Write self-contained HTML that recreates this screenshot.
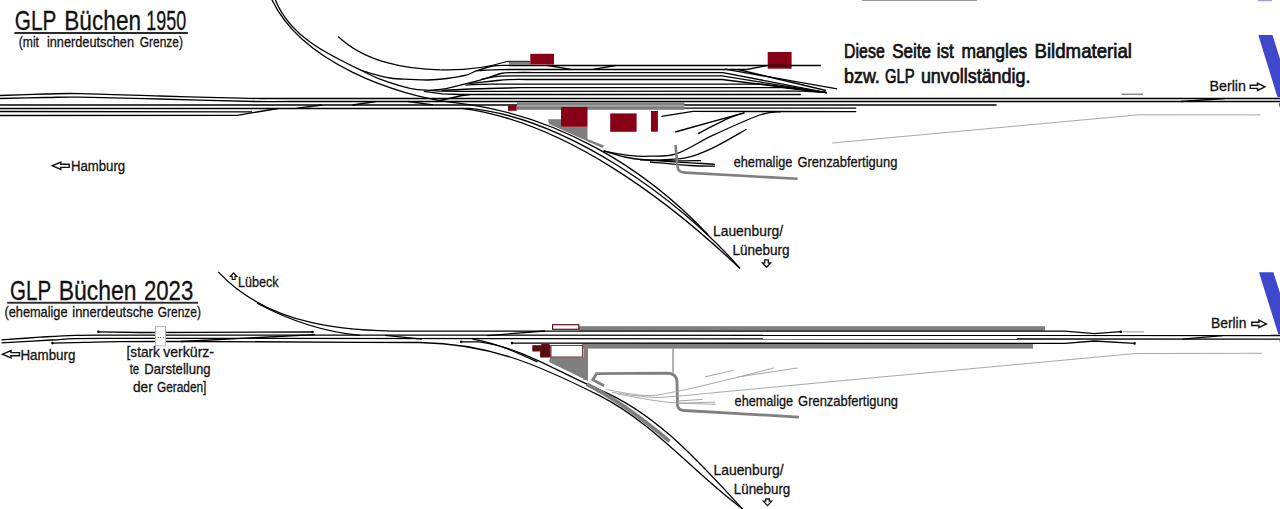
<!DOCTYPE html>
<html><head><meta charset="utf-8"><style>
html,body{margin:0;padding:0;background:#fff;width:1280px;height:509px;overflow:hidden}
svg{display:block}
text{font-family:"Liberation Sans", sans-serif}
</style></head><body>
<svg width="1280" height="509" viewBox="0 0 1280 509">
<rect width="1280" height="509" fill="#fff"/>
<rect x="767.7" y="52.0" width="23.9" height="16.7" fill="#880015"/>
<polygon points="548.0,119.3 561.0,119.3 561.0,127.0 587.5,127.0 587.5,139.0 604.0,145.5 602.5,148.0 549.0,124.0" fill="#7f7f7f"/>
<path d="M0.0 95.5 C7.7 95.2 32.7 94.3 46.0 94.0 C59.3 93.7 61.0 93.3 80.0 93.6 C99.0 93.9 133.3 95.2 160.0 96.0 C186.7 96.8 220.8 97.8 240.0 98.2 C259.2 98.6 248.3 98.5 275.0 98.5 C301.7 98.5 379.2 98.5 400.0 98.5" stroke="#000" stroke-width="1.3" fill="none"/>
<path d="M400.0 98.5 L1280.0 98.5" stroke="#000" stroke-width="1.3" fill="none"/>
<path d="M0.0 98.5 C7.7 98.3 32.7 97.7 46.0 97.5 C59.3 97.3 61.0 96.8 80.0 97.1 C99.0 97.3 130.8 98.3 160.0 99.0 C189.2 99.7 233.3 101.1 255.0 101.5 C276.7 101.9 265.8 101.5 290.0 101.5 C314.2 101.5 381.7 101.5 400.0 101.5" stroke="#000" stroke-width="1.3" fill="none"/>
<path d="M400.0 101.5 L1280.0 101.5" stroke="#000" stroke-width="1.3" fill="none"/>
<path d="M1181.0 101.5 L1225.0 98.5" stroke="#000" stroke-width="1.3" fill="none"/>
<path d="M0.0 105.0 L996.6 105.0" stroke="#000" stroke-width="1.3" fill="none"/>
<path d="M0.0 108.5 L470.0 108.5" stroke="#000" stroke-width="1.3" fill="none"/>
<path d="M0.0 111.5 L252.0 111.8" stroke="#000" stroke-width="1.3" fill="none"/>
<path d="M0.0 115.5 L237.0 115.3 L278.0 108.5" stroke="#000" stroke-width="1.3" fill="none"/>
<path d="M296.0 108.4 L322.0 105.0" stroke="#000" stroke-width="1.3" fill="none"/>
<path d="M352.5 105.0 L376.0 101.5" stroke="#000" stroke-width="1.3" fill="none"/>
<path d="M408.0 101.5 L433.0 104.9" stroke="#000" stroke-width="1.3" fill="none"/>
<path d="M436.0 101.5 L462.0 95.5 L470.0 94.6" stroke="#000" stroke-width="1.3" fill="none"/>
<path d="M441.8 90.5 L470.0 89.0 L508.6 88.0 L520.0 87.7 L782.0 87.7 L826.6 92.6" stroke="#000" stroke-width="1.3" fill="none"/>
<path d="M271.6 -1.0 C300.6 61.5 394.9 96.7 460.0 103.3" stroke="#000" stroke-width="1.3" fill="none"/>
<path d="M460.0 103.3 C555.4 115.2 642.6 165.2 708.0 234.8" stroke="#000" stroke-width="1.3" fill="none"/>
<path d="M275.0 -1.0 C289.8 37.1 328.7 54.9 363.0 71.2" stroke="#000" stroke-width="1.3" fill="none"/>
<path d="M363.0 71.2 C367.5 72.3 382.2 76.7 390.0 78.0 C397.8 79.3 403.7 79.0 410.0 79.3 C416.3 79.6 421.8 80.1 428.0 80.0 C434.2 79.9 440.7 79.3 447.0 78.5 C453.3 77.7 460.8 76.5 465.8 75.2 C470.8 73.9 472.5 72.2 477.0 70.7 C481.5 69.2 487.7 66.9 493.0 66.0 C498.3 65.1 502.8 65.5 509.0 65.4 C515.2 65.3 526.5 65.4 530.0 65.4" stroke="#000" stroke-width="1.3" fill="none"/>
<path d="M363.0 71.2 C365.8 72.5 372.0 76.3 380.0 79.2 C388.0 82.2 402.7 86.8 411.0 88.6 C419.3 90.4 424.3 89.9 430.0 90.3 C435.7 90.7 438.3 91.0 445.0 91.2 C451.7 91.4 465.8 91.3 470.0 91.3" stroke="#000" stroke-width="1.3" fill="none"/>
<path d="M430.0 90.3 C432.1 90.1 437.3 90.2 442.5 89.2 C447.7 88.3 454.3 86.7 461.4 84.9 C468.5 83.1 478.4 80.5 485.0 78.6 C491.6 76.7 495.8 74.5 500.8 73.5 C505.8 72.5 508.5 72.8 515.0 72.6 C521.5 72.4 535.8 72.6 540.0 72.6" stroke="#000" stroke-width="1.3" fill="none"/>
<path d="M338.2 36.5 C364.5 61.7 405.4 69.5 440.6 69.8" stroke="#000" stroke-width="1.3" fill="none"/>
<path d="M440.6 69.8 C463.0 70.5 485.6 68.1 507.0 61.5" stroke="#000" stroke-width="1.3" fill="none"/>
<path d="M507.0 61.5 L530.0 61.5" stroke="#000" stroke-width="1.3" fill="none"/>
<path d="M509.0 65.5 L820.9 65.5" stroke="#000" stroke-width="1.3" fill="none"/>
<path d="M548.0 65.5 L571.0 69.3" stroke="#000" stroke-width="1.3" fill="none"/>
<path d="M593.0 69.3 L615.5 65.5" stroke="#000" stroke-width="1.3" fill="none"/>
<path d="M477.0 70.7 C481.0 70.5 492.0 69.8 500.8 69.6 C509.6 69.4 525.1 69.5 530.0 69.5" stroke="#000" stroke-width="1.3" fill="none"/>
<path d="M530.0 69.5 L747.0 69.5 L766.8 65.5" stroke="#000" stroke-width="1.3" fill="none"/>
<path d="M540.0 72.6 L723.0 72.6 L826.6 92.6" stroke="#000" stroke-width="1.3" fill="none"/>
<path d="M481.0 79.4 C484.3 78.9 492.6 76.8 500.8 76.2 C509.0 75.6 525.1 76.0 530.0 75.9" stroke="#000" stroke-width="1.3" fill="none"/>
<path d="M530.0 75.9 L722.0 75.9 L826.6 92.6" stroke="#000" stroke-width="1.3" fill="none"/>
<path d="M469.0 83.7 C473.0 83.2 486.4 81.7 493.0 81.0 C499.6 80.3 502.4 79.8 508.6 79.6 C514.8 79.3 526.4 79.5 530.0 79.5" stroke="#000" stroke-width="1.3" fill="none"/>
<path d="M530.0 79.5 L722.0 79.5 L826.6 92.6" stroke="#000" stroke-width="1.3" fill="none"/>
<path d="M465.4 85.2 C467.8 85.0 474.2 84.5 480.0 84.3 C485.8 84.1 496.7 84.2 500.0 84.2" stroke="#000" stroke-width="1.3" fill="none"/>
<path d="M500.0 84.2 L762.0 84.2 L826.6 92.6" stroke="#000" stroke-width="1.3" fill="none"/>
<path d="M470.0 91.3 L803.0 91.2 L826.6 92.6" stroke="#000" stroke-width="1.3" fill="none"/>
<path d="M423.8 91.4 L442.5 93.9 L460.0 94.5 L800.8 94.5" stroke="#000" stroke-width="1.3" fill="none"/>
<path d="M725.0 69.1 L837.2 88.9" stroke="#000" stroke-width="1.3" fill="none"/>
<path d="M738.0 69.5 L826.0 90.5" stroke="#000" stroke-width="1.3" fill="none"/>
<path d="M684.0 108.2 L856.2 108.2" stroke="#000" stroke-width="1.3" fill="none"/>
<path d="M693.0 111.4 L856.2 111.6" stroke="#000" stroke-width="1.3" fill="none"/>
<path d="M661.4 116.4 L693.0 111.4" stroke="#000" stroke-width="1.3" fill="none"/>
<path d="M470.0 108.4 C564.7 118.1 679.0 197.5 740.0 268.5" stroke="#000" stroke-width="1.3" fill="none"/>
<path d="M462.0 108.4 C564.4 121.6 667.7 199.7 740.0 268.5" stroke="#000" stroke-width="1.3" fill="none"/>
<path d="M603.6 150.9 C607.8 151.7 621.0 154.5 628.7 155.4 C636.4 156.3 642.0 156.5 650.0 156.2 C658.0 155.9 666.3 157.1 676.8 153.6 C687.3 150.1 699.4 141.6 713.2 135.2 C727.0 128.8 748.4 118.9 759.7 115.0 C771.0 111.1 777.5 112.2 781.0 111.6" stroke="#000" stroke-width="1.3" fill="none"/>
<path d="M603.6 150.9 C608.0 152.1 620.6 156.3 630.0 158.0 C639.4 159.7 645.8 159.8 660.0 160.8 C674.2 161.9 705.8 163.7 715.0 164.3" stroke="#000" stroke-width="1.3" fill="none"/>
<path d="M640.0 159.8 C646.7 160.0 669.8 160.7 680.0 160.8 C690.2 160.9 697.5 160.6 701.0 160.6" stroke="#000" stroke-width="1.3" fill="none"/>
<path d="M650.0 162.0 C656.7 162.6 679.2 164.8 690.0 165.5 C700.8 166.2 710.8 166.1 715.0 166.2" stroke="#000" stroke-width="1.3" fill="none"/>
<path d="M650.0 160.4 C655.9 160.0 675.0 160.0 685.5 157.9 C696.0 155.8 702.8 152.6 713.0 147.8 C723.2 143.0 740.9 132.3 746.5 129.2" stroke="#000" stroke-width="1.3" fill="none"/>
<path d="M675.2 132.0 L744.7 112.6" stroke="#000" stroke-width="1.3" fill="none"/>
<path d="M698.0 133.7 C702.8 131.2 719.3 122.4 727.0 118.9 C734.7 115.5 741.2 114.0 744.0 113.0" stroke="#000" stroke-width="1.3" fill="none"/>
<path d="M675.5 145 L677.5 166.5 Q678 172.6 685 172.6 L797.6 178.8" stroke="#7f7f7f" stroke-width="2.6" fill="none"/>
<path d="M832.3 143.0 L1138.2 114.8 L1260.5 114.9" stroke="#a8a8a8" stroke-width="1" fill="none"/>
<path d="M1121.3 94.2 L1143.0 94.2" stroke="#555" stroke-width="1" fill="none"/>
<rect x="517.0" y="102.3" width="167.3" height="7.5" fill="#7f7f7f"/>
<path d="M517.0 105.8 L684.3 105.8" stroke="#c4c4c4" stroke-width="0.9" fill="none"/>
<rect x="509.0" y="61.6" width="21.5" height="3.4" fill="#7f7f7f"/>
<rect x="530.3" y="53.8" width="23.7" height="10.7" fill="#880015"/>
<rect x="508.0" y="105.4" width="8.7" height="5.4" fill="#880015"/>
<rect x="561.0" y="107.0" width="26.5" height="19.8" fill="#880015"/>
<rect x="610.2" y="113.4" width="26.4" height="18.4" fill="#880015"/>
<rect x="651.0" y="111.0" width="6.9" height="20.7" fill="#880015"/>
<rect x="579.0" y="326.2" width="466.0" height="4.6" fill="#7f7f7f"/>
<rect x="582.0" y="343.9" width="451.0" height="4.7" fill="#7f7f7f"/>
<rect x="583.4" y="348.0" width="4.6" height="32.0" fill="#7f7f7f"/>
<polygon points="550.3,357.3 588.0,357.3 588.0,381.0 583.0,378.5 549.0,362.0" fill="#7f7f7f"/>
<path d="M673.0 348.6 L673.0 373.8" stroke="#666" stroke-width="1" fill="none"/>
<path d="M1.5 339.9 C7.9 339.4 27.8 338.0 40.0 337.2 C52.2 336.4 61.7 335.6 75.0 335.3 C88.3 335.0 99.2 335.1 120.0 335.1 C140.8 335.1 186.7 335.1 200.0 335.1" stroke="#000" stroke-width="1.3" fill="none"/>
<path d="M200.0 335.1 L1280.0 335.5" stroke="#000" stroke-width="1.3" fill="none"/>
<path d="M1.5 342.9 C9.8 342.4 39.2 340.7 51.5 340.0 C63.8 339.3 63.6 338.9 75.0 338.6 C86.4 338.3 99.2 338.4 120.0 338.4 C140.8 338.4 186.7 338.4 200.0 338.4" stroke="#000" stroke-width="1.3" fill="none"/>
<path d="M200.0 338.4 L1280.0 339.2" stroke="#000" stroke-width="1.3" fill="none"/>
<path d="M52.5 343.1 C57.8 343.0 73.2 342.6 84.4 342.3 C95.7 342.1 100.7 341.7 120.0 341.6 C139.3 341.5 186.7 341.5 200.0 341.5" stroke="#000" stroke-width="1.3" fill="none"/>
<path d="M200.0 341.5 L360.0 342.3 L420.0 342.5" stroke="#000" stroke-width="1.3" fill="none"/>
<path d="M98.4 331.8 L140.0 332.5 L200.0 332.4 L312.5 332.0" stroke="#000" stroke-width="1.3" fill="none"/>
<path d="M181.0 341.5 L315.0 334.6" stroke="#000" stroke-width="1.3" fill="none"/>
<path d="M487.5 335.6 L545.0 331.0" stroke="#000" stroke-width="1.3" fill="none"/>
<path d="M385.0 335.4 L422.0 339.2" stroke="#000" stroke-width="1.3" fill="none"/>
<path d="M1182.4 339.2 L1222.7 335.6" stroke="#000" stroke-width="1.3" fill="none"/>
<path d="M218.2 271.9 C269.7 327.1 349.5 332.3 420.0 331.1" stroke="#000" stroke-width="1.3" fill="none"/>
<path d="M257.2 303.3 C289.0 320.3 324.1 332.0 360.0 335.4" stroke="#000" stroke-width="1.3" fill="none"/>
<path d="M420.0 331.1 L1065.0 331.1 L1094.3 333.6 L1120.8 331.7" stroke="#000" stroke-width="1.3" fill="none"/>
<path d="M1122.6 331.8 L1144.0 331.8" stroke="#a8a8a8" stroke-width="1.2" fill="none"/>
<path d="M512.0 343.1 L1065.0 343.4 L1094.3 341.0 L1134.6 343.4" stroke="#000" stroke-width="1.3" fill="none"/>
<path d="M420.0 342.5 C489.4 343.6 537.5 364.5 598.6 395.2 C654.1 423.1 693.5 472.9 742.7 509.0" stroke="#000" stroke-width="1.3" fill="none"/>
<path d="M461.2 341.8 L479.3 341.9" stroke="#000" stroke-width="1.3" fill="none"/>
<path d="M479.3 341.9 C522.6 347.7 559.0 372.9 598.6 389.3 C657.1 413.4 700.2 463.6 742.7 509.0" stroke="#000" stroke-width="1.3" fill="none"/>
<path d="M472.5 339.1 C495.3 342.5 516.7 352.4 537.5 362.0" stroke="#000" stroke-width="1.3" fill="none"/>
<path d="M586.8 384.2 C616.8 399.3 644.0 419.7 669.5 441.3" stroke="#7f7f7f" stroke-width="3.8" fill="none"/>
<path d="M604.2 385.7 L592.7 379.7 L596.6 373.7 L666.6 373.1 Q677 373.5 677 382 L677.5 405.4 Q678 410 684 410.5 L730 413.1 L799 417.1" stroke="#7f7f7f" stroke-width="2.8" fill="none"/>
<path d="M606.4 389.5 C612.8 390.5 633.2 395.1 644.7 395.5 C656.2 395.9 661.1 394.4 675.3 391.7 C689.5 389.0 713.6 383.1 730.0 379.1 C746.4 375.2 766.3 369.9 773.6 368.0" stroke="#a8a8a8" stroke-width="1" fill="none"/>
<path d="M737.7 377.0 L797.5 368.0" stroke="#a8a8a8" stroke-width="1" fill="none"/>
<path d="M611.9 392.3 C618.3 393.1 639.3 396.6 650.2 397.2 C661.1 397.8 664.2 397.1 677.5 396.1 C690.8 395.1 701.0 393.9 730.0 391.2 C759.0 388.5 783.7 386.1 851.3 379.8 C918.9 373.5 1088.4 357.9 1135.8 353.5" stroke="#a8a8a8" stroke-width="1" fill="none"/>
<path d="M1135.8 353.5 L1262.0 353.3" stroke="#a8a8a8" stroke-width="1" fill="none"/>
<path d="M617.4 393.9 C625.6 395.3 650.2 400.4 666.6 402.1 C683.0 403.8 707.6 403.9 715.8 404.3" stroke="#a8a8a8" stroke-width="1" fill="none"/>
<path d="M677.5 401.0 L702.7 399.4" stroke="#a8a8a8" stroke-width="1" fill="none"/>
<path d="M677.5 403.2 L715.3 402.1" stroke="#a8a8a8" stroke-width="1" fill="none"/>
<path d="M704.9 376.9 L733.3 370.4" stroke="#a8a8a8" stroke-width="1" fill="none"/>
<circle cx="461.2" cy="341.8" r="1.3" fill="#000"/>
<circle cx="512.0" cy="343.1" r="1.3" fill="#000"/>
<circle cx="1120.8" cy="331.7" r="1.3" fill="#000"/>
<circle cx="1134.6" cy="343.4" r="1.3" fill="#000"/>
<circle cx="312.5" cy="332.0" r="1.3" fill="#000"/>
<circle cx="98.4" cy="331.8" r="1.3" fill="#000"/>
<circle cx="52.5" cy="343.1" r="1.3" fill="#000"/>
<rect x="552.6" y="324.7" width="26.2" height="4.6" fill="#fff" stroke="#5e1014" stroke-width="1.2"/>
<rect x="532.3" y="345.2" width="8.2" height="6.3" fill="#5a0c10"/>
<path d="M540.1 357.6 L540.1 346.5 Q540.1 344 542.6 344 L548.1 344 Q550.6 344 550.6 346.5 L550.6 357.6 Z" fill="#5a0c10"/>
<rect x="551" y="345.4" width="31.4" height="11.6" fill="#fff" stroke="#6a1c1c" stroke-width="0.9"/>
<rect x="155.5" y="326.5" width="10" height="19.4" fill="#fff" stroke="#bbb" stroke-width="1"/>
<rect x="157.8" y="337.0" width="1.0" height="1.0" fill="#555"/>
<rect x="160.3" y="337.0" width="1.0" height="1.0" fill="#555"/>
<rect x="162.8" y="337.0" width="1.0" height="1.0" fill="#555"/>
<polygon points="1258.3,35.0 1272.5,35.0 1292.0,97.2 1277.5,97.2" fill="#3f48cc"/>
<polygon points="1278.6,103.2 1282.0,103.2 1282.0,107.5 1279.8,107.5" fill="#3f48cc"/>
<polygon points="1259.0,272.2 1273.4,272.2 1293.0,334.2 1278.3,334.2" fill="#3f48cc"/>
<polygon points="1279.4,340.3 1282.0,340.3 1282.0,344.5 1280.3,344.5" fill="#3f48cc"/>
<rect x="1258.0" y="0.0" width="14.0" height="1.2" fill="#9aa0e6"/>
<rect x="862.0" y="0.0" width="115.0" height="1.0" fill="#9a9a9a"/>
<text x="14.75" y="29.9" font-size="27.6" fill="#111" textLength="41.52" lengthAdjust="spacingAndGlyphs" stroke="#111" stroke-width="0.3">GLP</text>
<text x="64.28" y="29.9" font-size="27.6" fill="#111" textLength="76.81" lengthAdjust="spacingAndGlyphs" stroke="#111" stroke-width="0.3">Büchen</text>
<text x="146.25" y="29.9" font-size="27.6" fill="#111" textLength="39.90" lengthAdjust="spacingAndGlyphs" stroke="#111" stroke-width="0.3">1950</text>
<text x="18.75" y="46.8" font-size="15" fill="#111" textLength="20.24" lengthAdjust="spacingAndGlyphs" stroke="#111" stroke-width="0.3">(mit</text>
<text x="46.90" y="46.8" font-size="15" fill="#111" textLength="87.14" lengthAdjust="spacingAndGlyphs" stroke="#111" stroke-width="0.3">innerdeutschen</text>
<text x="139.80" y="46.8" font-size="15" fill="#111" textLength="43.15" lengthAdjust="spacingAndGlyphs" stroke="#111" stroke-width="0.3">Grenze)</text>
<text x="844.10" y="58.0" font-size="19.8" fill="#111" textLength="40.66" lengthAdjust="spacingAndGlyphs" stroke="#111" stroke-width="0.7">Diese</text>
<text x="892.20" y="58.0" font-size="19.8" fill="#111" textLength="38.78" lengthAdjust="spacingAndGlyphs" stroke="#111" stroke-width="0.7">Seite</text>
<text x="936.70" y="58.0" font-size="19.8" fill="#111" textLength="17.14" lengthAdjust="spacingAndGlyphs" stroke="#111" stroke-width="0.7">ist</text>
<text x="961.40" y="58.0" font-size="19.8" fill="#111" textLength="65.91" lengthAdjust="spacingAndGlyphs" stroke="#111" stroke-width="0.7">mangles</text>
<text x="1034.50" y="58.0" font-size="19.8" fill="#111" textLength="97.42" lengthAdjust="spacingAndGlyphs" stroke="#111" stroke-width="0.7">Bildmaterial</text>
<text x="844.10" y="83.0" font-size="19.8" fill="#111" textLength="35.74" lengthAdjust="spacingAndGlyphs" stroke="#111" stroke-width="0.7">bzw.</text>
<text x="885.10" y="83.0" font-size="19.8" fill="#111" textLength="29.60" lengthAdjust="spacingAndGlyphs" stroke="#111" stroke-width="0.7">GLP</text>
<text x="920.90" y="83.0" font-size="19.8" fill="#111" textLength="109.58" lengthAdjust="spacingAndGlyphs" stroke="#111" stroke-width="0.7">unvollständig.</text>
<text x="1209.50" y="90.7" font-size="15.3" fill="#111" textLength="36.40" lengthAdjust="spacingAndGlyphs" stroke="#111" stroke-width="0.3">Berlin</text>
<text x="70.90" y="171.1" font-size="15.3" fill="#111" textLength="54.23" lengthAdjust="spacingAndGlyphs" stroke="#111" stroke-width="0.3">Hamburg</text>
<text x="733.70" y="166.7" font-size="14.5" fill="#111" textLength="58.73" lengthAdjust="spacingAndGlyphs" stroke="#111" stroke-width="0.3">ehemalige</text>
<text x="797.40" y="166.7" font-size="14.5" fill="#111" textLength="99.94" lengthAdjust="spacingAndGlyphs" stroke="#111" stroke-width="0.3">Grenzabfertigung</text>
<text x="713.00" y="235.6" font-size="15.3" fill="#111" textLength="70.06" lengthAdjust="spacingAndGlyphs" stroke="#111" stroke-width="0.3">Lauenburg/</text>
<text x="732.40" y="255.0" font-size="15.3" fill="#111" textLength="57.20" lengthAdjust="spacingAndGlyphs" stroke="#111" stroke-width="0.3">Lüneburg</text>
<text x="10.06" y="299.7" font-size="27.6" fill="#111" textLength="41.11" lengthAdjust="spacingAndGlyphs" stroke="#111" stroke-width="0.3">GLP</text>
<text x="58.77" y="299.7" font-size="27.6" fill="#111" textLength="77.83" lengthAdjust="spacingAndGlyphs" stroke="#111" stroke-width="0.3">Büchen</text>
<text x="143.89" y="299.7" font-size="27.6" fill="#111" textLength="49.42" lengthAdjust="spacingAndGlyphs" stroke="#111" stroke-width="0.3">2023</text>
<text x="4.50" y="316.8" font-size="15" fill="#111" textLength="62.99" lengthAdjust="spacingAndGlyphs" stroke="#111" stroke-width="0.3">(ehemalige</text>
<text x="72.30" y="316.8" font-size="15" fill="#111" textLength="81.20" lengthAdjust="spacingAndGlyphs" stroke="#111" stroke-width="0.3">innerdeutsche</text>
<text x="157.80" y="316.8" font-size="15" fill="#111" textLength="43.05" lengthAdjust="spacingAndGlyphs" stroke="#111" stroke-width="0.3">Grenze)</text>
<text x="238.00" y="286.8" font-size="15" fill="#111" textLength="40.67" lengthAdjust="spacingAndGlyphs" stroke="#111" stroke-width="0.3">Lübeck</text>
<text x="20.40" y="359.7" font-size="15.3" fill="#111" textLength="55.03" lengthAdjust="spacingAndGlyphs" stroke="#111" stroke-width="0.3">Hamburg</text>
<text x="126.60" y="356.9" font-size="15" fill="#111" textLength="33.12" lengthAdjust="spacingAndGlyphs" stroke="#111" stroke-width="0.3">[stark</text>
<text x="163.20" y="356.9" font-size="15" fill="#111" textLength="50.86" lengthAdjust="spacingAndGlyphs" stroke="#111" stroke-width="0.3">verkürz-</text>
<text x="129.70" y="374.2" font-size="15" fill="#111" textLength="9.53" lengthAdjust="spacingAndGlyphs" stroke="#111" stroke-width="0.3">te</text>
<text x="144.30" y="374.2" font-size="15" fill="#111" textLength="66.29" lengthAdjust="spacingAndGlyphs" stroke="#111" stroke-width="0.3">Darstellung</text>
<text x="132.90" y="392.2" font-size="15" fill="#111" textLength="19.81" lengthAdjust="spacingAndGlyphs" stroke="#111" stroke-width="0.3">der</text>
<text x="156.90" y="392.2" font-size="15" fill="#111" textLength="49.53" lengthAdjust="spacingAndGlyphs" stroke="#111" stroke-width="0.3">Geraden]</text>
<text x="1210.90" y="328.4" font-size="15.3" fill="#111" textLength="35.50" lengthAdjust="spacingAndGlyphs" stroke="#111" stroke-width="0.3">Berlin</text>
<text x="734.60" y="405.8" font-size="14.5" fill="#111" textLength="58.53" lengthAdjust="spacingAndGlyphs" stroke="#111" stroke-width="0.3">ehemalige</text>
<text x="798.10" y="405.8" font-size="14.5" fill="#111" textLength="99.94" lengthAdjust="spacingAndGlyphs" stroke="#111" stroke-width="0.3">Grenzabfertigung</text>
<text x="713.50" y="475.0" font-size="15.3" fill="#111" textLength="70.16" lengthAdjust="spacingAndGlyphs" stroke="#111" stroke-width="0.3">Lauenburg/</text>
<text x="733.80" y="494.4" font-size="15.3" fill="#111" textLength="56.50" lengthAdjust="spacingAndGlyphs" stroke="#111" stroke-width="0.3">Lüneburg</text>
<rect x="14.4" y="32.0" width="173.5" height="2.0" fill="#2a2a2a"/>
<rect x="7.2" y="301.8" width="190.8" height="1.9" fill="#2a2a2a"/>
<path d="M1250.3 85.2 L1257.5 85.2 L1257.5 83.1 L1265.0 86.8 L1257.5 90.5 L1257.5 88.4 L1250.3 88.4 Z" fill="#fff" stroke="#111" stroke-width="1.4" stroke-linejoin="miter"/>
<path d="M69.2 164.2 L60.8 164.2 L60.8 162.1 L52.3 165.8 L60.8 169.5 L60.8 167.4 L69.2 167.4 Z" fill="#fff" stroke="#111" stroke-width="1.4" stroke-linejoin="miter"/>
<path d="M764.7 259.8 L764.7 262.8 L762.3 262.8 L766.5 267.3 L770.7 262.8 L768.3 262.8 L768.3 259.8 Z" fill="#fff" stroke="#111" stroke-width="1.3"/>
<path d="M1251.8 322.3 L1258.9 322.3 L1258.9 320.2 L1266.4 323.9 L1258.9 327.6 L1258.9 325.5 L1251.8 325.5 Z" fill="#fff" stroke="#111" stroke-width="1.4" stroke-linejoin="miter"/>
<path d="M19.5 352.6 L11.0 352.6 L11.0 350.5 L2.5 354.2 L11.0 357.9 L11.0 355.8 L19.5 355.8 Z" fill="#fff" stroke="#111" stroke-width="1.4" stroke-linejoin="miter"/>
<path d="M765.7 499.0 L765.7 501.1 L763.3 501.1 L767.5 505.6 L771.7 501.1 L769.3 501.1 L769.3 499.0 Z" fill="#fff" stroke="#111" stroke-width="1.3"/>
<path d="M232.2 279.5 L232.2 276.5 L230.4 276.5 L233.6 273.0 L236.8 276.5 L235.0 276.5 L235.0 279.5 Z" fill="#fff" stroke="#111" stroke-width="1.2"/>
</svg>
</body></html>
